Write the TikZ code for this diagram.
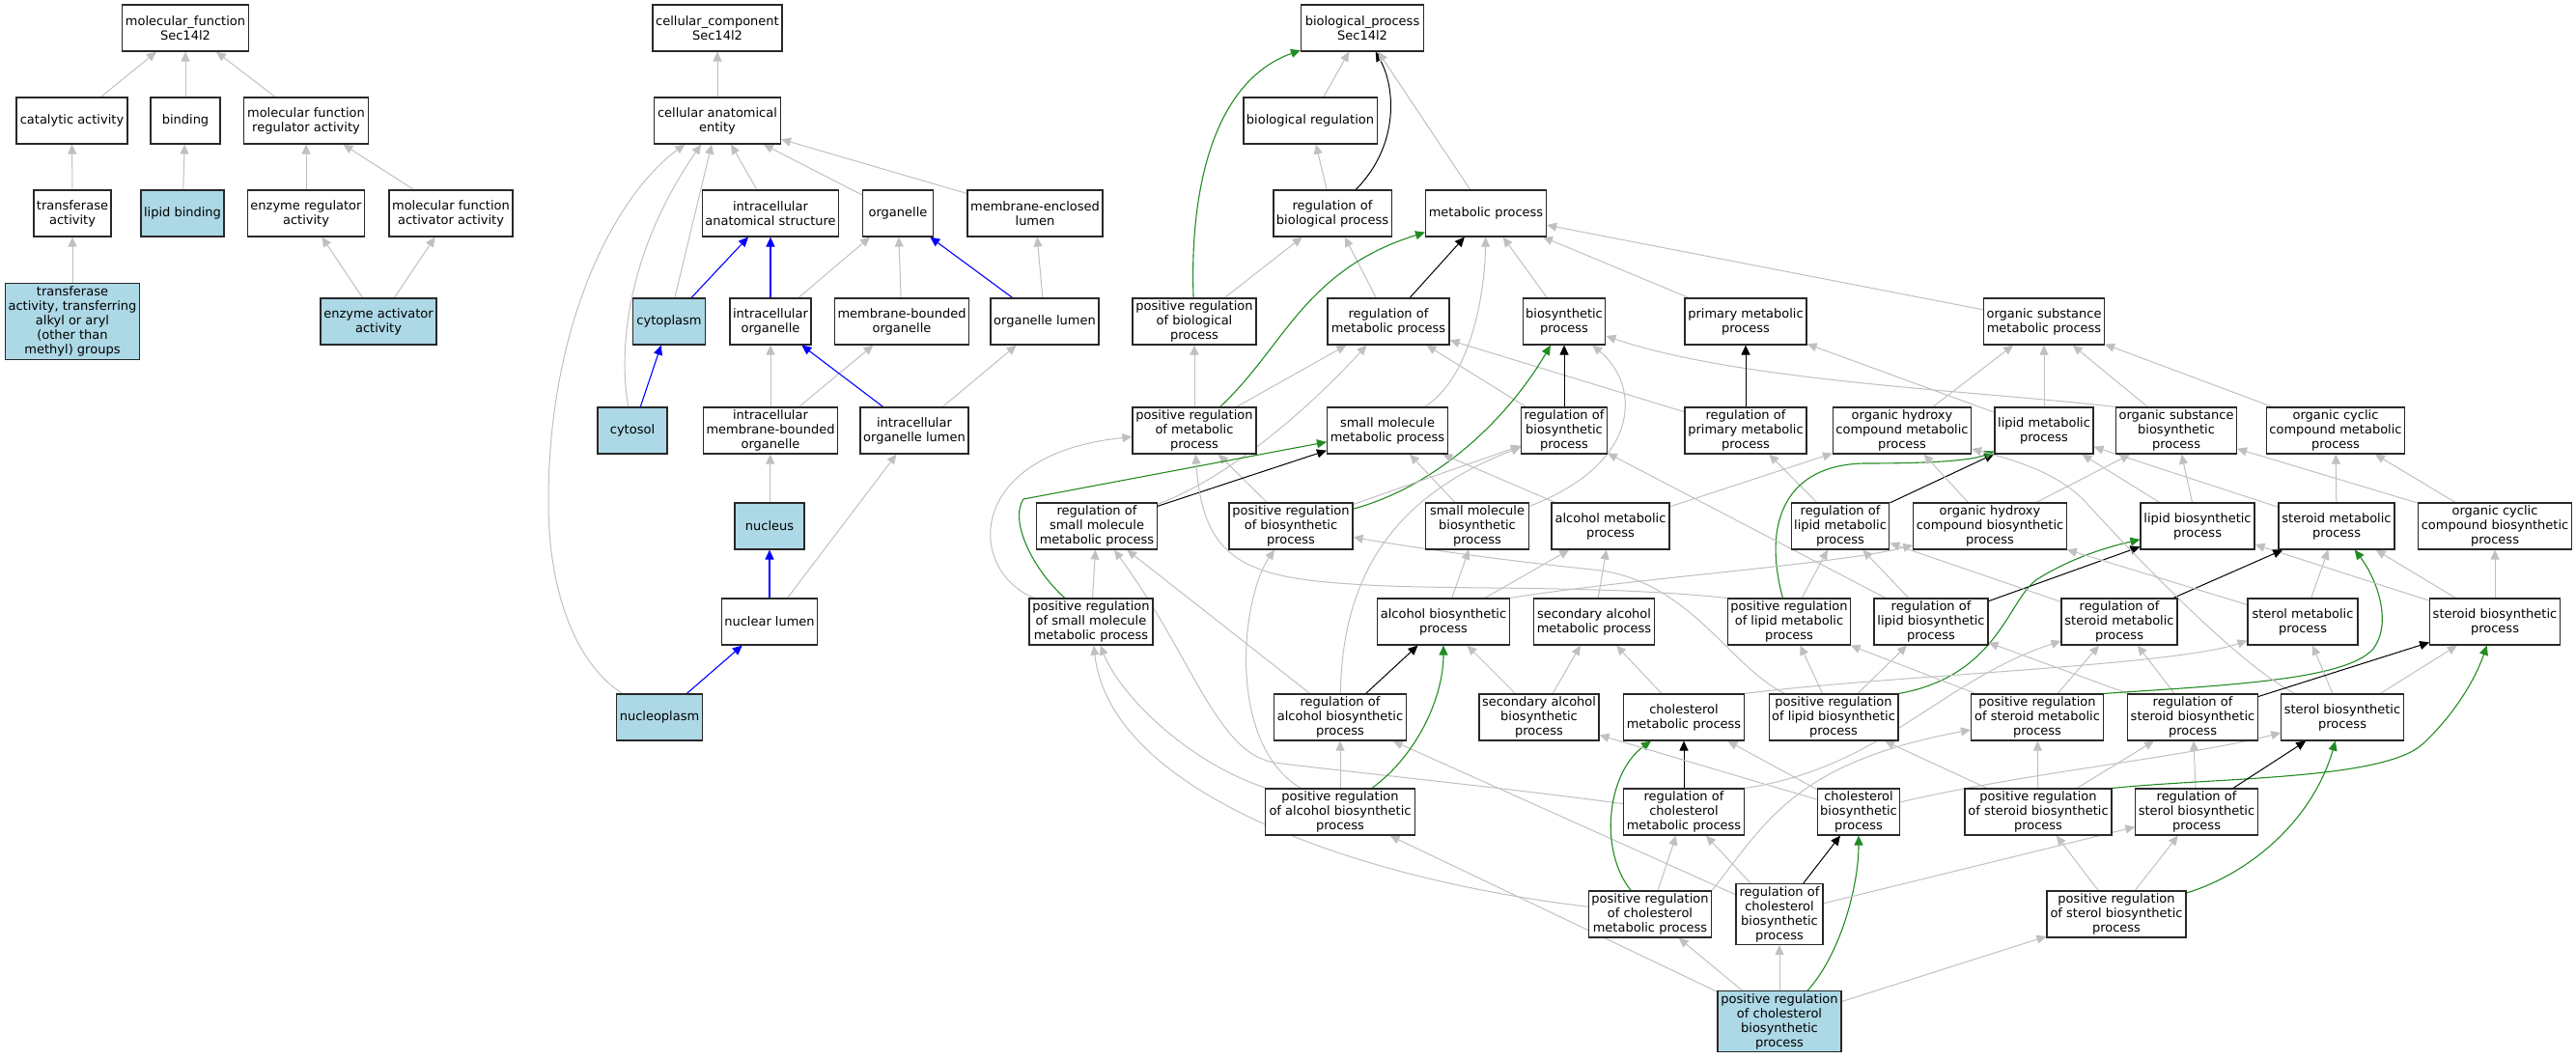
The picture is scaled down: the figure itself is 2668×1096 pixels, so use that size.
\documentclass[tikz,border=0pt]{standalone}
\usepackage{fontspec}
\setmainfont{DejaVu Sans}
\usetikzlibrary{arrows.meta,backgrounds}
\definecolor{edgegray}{RGB}{192,192,192}
\definecolor{posgreen}{RGB}{34,139,34}
\definecolor{partblue}{RGB}{0,0,255}
\definecolor{hitblue}{RGB}{173,216,230}
\definecolor{boxline}{RGB}{40,40,40}
\tikzset{
  box/.style={draw=boxline, line width=1.1pt, fill=white, align=center, inner xsep=3pt, inner ysep=1.5pt, minimum height=48pt, font=\fontsize{13}{15}\selectfont},
  hit/.style={box, fill=hitblue},
  tip/.style={-{Triangle[length=10pt,width=9pt]}},
  ga/.style={tip, draw=edgegray, line width=1pt},
  ka/.style={tip, draw=black, line width=1pt},
  gr/.style={tip, draw=posgreen, line width=1.1pt},
  bl/.style={tip, draw=partblue, line width=1.1pt}
}
\begin{document}
\begin{tikzpicture}[x=1pt,y=-1pt]
\useasboundingbox (0,0) rectangle (2668,1096);
% ---------- molecular function ----------
\node[box, minimum width=131pt] (mf) at (192,29) {molecular\_function\\Sec14l2};
\node[box, minimum width=115pt] (cat) at (74.5,125) {catalytic activity};
\node[box, minimum width=72pt] (bind) at (192,125) {binding};
\node[box, minimum width=129pt] (mfr) at (317,125) {molecular function\\regulator activity};
\node[box, minimum width=80pt] (trans) at (75,221) {transferase\\activity};
\node[hit, minimum width=86pt] (lipb) at (189,221) {lipid binding};
\node[box, minimum width=121pt] (enzr) at (317,221) {enzyme regulator\\activity};
\node[box, minimum width=128pt] (mfa) at (467,221) {molecular function\\activator activity};
\node[hit, minimum width=138pt, minimum height=79pt] (trx) at (75,333) {transferase\\activity, transferring\\alkyl or aryl\\(other than\\methyl) groups};
\node[hit, minimum width=120pt] (enza) at (392,333) {enzyme activator\\activity};
% ---------- cellular component ----------
\node[box, minimum width=134pt] (cc) at (743,29) {cellular\_component\\Sec14l2};
\node[box, minimum width=131pt] (cae) at (743,125) {cellular anatomical\\entity};
\node[box, minimum width=141pt] (ias) at (798,221) {intracellular\\anatomical structure};
\node[box, minimum width=73pt] (org) at (930,221) {organelle};
\node[box, minimum width=140pt] (mel) at (1072,221) {membrane-enclosed\\lumen};
\node[hit, minimum width=75pt] (cyto) at (693,333) {cytoplasm};
\node[box, minimum width=84pt] (io) at (798,333) {intracellular\\organelle};
\node[box, minimum width=138pt] (mbo) at (934,333) {membrane-bounded\\organelle};
\node[box, minimum width=112pt] (orgl) at (1082,333) {organelle lumen};
\node[hit, minimum width=72pt] (cytosol) at (655,446) {cytosol};
\node[box, minimum width=139pt] (imbo) at (798,446) {intracellular\\membrane-bounded\\organelle};
\node[box, minimum width=112pt] (iol) at (947,446) {intracellular\\organelle lumen};
\node[hit, minimum width=72pt] (nuc) at (797,545) {nucleus};
\node[box, minimum width=99pt] (nl) at (797,644) {nuclear lumen};
\node[hit, minimum width=89pt] (np) at (683,743) {nucleoplasm};
% ---------- biological process ----------
\node[box, minimum width=127pt] (bp) at (1411,29) {biological\_process\\Sec14l2};
\node[box, minimum width=138pt] (br) at (1357,125) {biological regulation};
\node[box, minimum width=122pt] (robp) at (1380,221) {regulation of\\biological process};
\node[box, minimum width=125pt] (mp) at (1539,221) {metabolic process};
\node[box, minimum width=128pt] (probp) at (1237,333) {positive regulation\\of biological\\process};
\node[box, minimum width=126pt] (romp) at (1438,333) {regulation of\\metabolic process};
\node[box, minimum width=85pt] (bsp) at (1620,333) {biosynthetic\\process};
\node[box, minimum width=126pt] (pmp) at (1808,333) {primary metabolic\\process};
\node[box, minimum width=124pt] (osmp) at (2117,333) {organic substance\\metabolic process};
\node[box, minimum width=128pt] (promp) at (1237,446) {positive regulation\\of metabolic\\process};
\node[box, minimum width=125pt] (smmp) at (1437,446) {small molecule\\metabolic process};
\node[box, minimum width=87pt] (rbp) at (1620,446) {regulation of\\biosynthetic\\process};
\node[box, minimum width=126pt] (rpmp) at (1808,446) {regulation of\\primary metabolic\\process};
\node[box, minimum width=141pt] (ohcmp) at (1970,446) {organic hydroxy\\compound metabolic\\process};
\node[box, minimum width=102pt] (lmp) at (2117,446) {lipid metabolic\\process};
\node[box, minimum width=122pt] (osbp) at (2254,446) {organic substance\\biosynthetic\\process};
\node[box, minimum width=142pt] (occmp) at (2419,446) {organic cyclic\\compound metabolic\\process};
\node[box, minimum width=125pt] (rsmmp) at (1136,545) {regulation of\\small molecule\\metabolic process};
\node[box, minimum width=128pt] (prbp) at (1337,545) {positive regulation\\of biosynthetic\\process};
\node[box, minimum width=107pt] (smbp) at (1530,545) {small molecule\\biosynthetic\\process};
\node[box, minimum width=122pt] (amp) at (1668,545) {alcohol metabolic\\process};
\node[box, minimum width=101pt] (rlmp) at (1906,545) {regulation of\\lipid metabolic\\process};
\node[box, minimum width=158pt] (ohcbp) at (2061,545) {organic hydroxy\\compound biosynthetic\\process};
\node[box, minimum width=118pt] (lbp) at (2276,545) {lipid biosynthetic\\process};
\node[box, minimum width=120pt] (stmp) at (2420,545) {steroid metabolic\\process};
\node[box, minimum width=158pt] (occbp) at (2584,545) {organic cyclic\\compound biosynthetic\\process};
\node[box, minimum width=128pt] (prsmmp) at (1130,644) {positive regulation\\of small molecule\\metabolic process};
\node[box, minimum width=136pt] (abp) at (1495,644) {alcohol biosynthetic\\process};
\node[box, minimum width=124pt] (samp) at (1651,644) {secondary alcohol\\metabolic process};
\node[box, minimum width=127pt] (prlmp) at (1853,644) {positive regulation\\of lipid metabolic\\process};
\node[box, minimum width=118pt] (rlbp) at (2000,644) {regulation of\\lipid biosynthetic\\process};
\node[box, minimum width=120pt] (rstmp) at (2195,644) {regulation of\\steroid metabolic\\process};
\node[box, minimum width=114pt] (sterolmp) at (2385,644) {sterol metabolic\\process};
\node[box, minimum width=134pt] (stbp) at (2584,644) {steroid biosynthetic\\process};
\node[box, minimum width=137pt] (rabp) at (1388,743) {regulation of\\alcohol biosynthetic\\process};
\node[box, minimum width=123pt] (sabp) at (1594,743) {secondary alcohol\\biosynthetic\\process};
\node[box, minimum width=125pt] (cmp) at (1744,743) {cholesterol\\metabolic process};
\node[box, minimum width=133pt] (prlbp) at (1899,743) {positive regulation\\of lipid biosynthetic\\process};
\node[box, minimum width=137pt] (prstmp) at (2110,743) {positive regulation\\of steroid metabolic\\process};
\node[box, minimum width=133pt] (rstbp) at (2271,743) {regulation of\\steroid biosynthetic\\process};
\node[box, minimum width=126pt] (sterolbp) at (2426,743) {sterol biosynthetic\\process};
\node[box, minimum width=155pt] (prabp) at (1388,841) {positive regulation\\of alcohol biosynthetic\\process};
\node[box, minimum width=125pt] (rcmp) at (1744,841) {regulation of\\cholesterol\\metabolic process};
\node[box, minimum width=85pt] (cbp) at (1925,841) {cholesterol\\biosynthetic\\process};
\node[box, minimum width=152pt] (prstbp) at (2111,841) {positive regulation\\of steroid biosynthetic\\process};
\node[box, minimum width=126pt] (rsterolbp) at (2275,841) {regulation of\\sterol biosynthetic\\process};
\node[box, minimum width=127pt] (prcmp) at (1709,947) {positive regulation\\of cholesterol\\metabolic process};
\node[box, minimum width=90pt, minimum height=63pt] (rcbp) at (1843,947) {regulation of\\cholesterol\\biosynthetic\\process};
\node[box, minimum width=144pt] (prsterolbp) at (2192,947) {positive regulation\\of sterol biosynthetic\\process};
\node[hit, minimum width=128pt, minimum height=63pt] (prcbp) at (1843,1058) {positive regulation\\of cholesterol\\biosynthetic\\process};

\begin{pgfonlayer}{background}
% MF
\draw[ga] (cat) -- (mf);
\draw[ga] (bind) -- (mf);
\draw[ga] (mfr) -- (mf);
\draw[ga] (trans) -- (cat);
\draw[ga] (lipb) -- (bind);
\draw[ga] (enzr) -- (mfr);
\draw[ga] (mfa) -- (mfr);
\draw[ga] (trx) -- (trans);
\draw[ga] (enza) -- (enzr);
\draw[ga] (enza) -- (mfa);
% CC
\draw[ga] (cae) -- (cc);
\draw[ga] (ias) -- (cae);
\draw[ga] (org) -- (cae);
\draw[ga] (mel) -- (cae);
\draw[ga] (cyto) -- (cae);
\draw[ga] (cytosol) .. controls (640,360) and (650,260) .. (cae);
\draw[ga] (np) .. controls (600,690) and (568,620) .. (568,520) .. controls (568,330) and (640,200) .. (cae);
\draw[bl] (cyto) -- (ias);
\draw[bl] (io) -- (ias);
\draw[ga] (io) -- (org);
\draw[ga] (mbo) -- (org);
\draw[bl] (orgl) -- (org);
\draw[ga] (orgl) -- (mel);
\draw[bl] (cytosol) -- (cyto);
\draw[ga] (imbo) -- (io);
\draw[ga] (imbo) -- (mbo);
\draw[bl] (iol) -- (io);
\draw[ga] (iol) -- (orgl);
\draw[ga] (nuc) -- (imbo);
\draw[bl] (nl) -- (nuc);
\draw[ga] (nl) -- (iol);
\draw[bl] (np) -- (nl);
% BP upper
\draw[ga] (br) -- (bp);
\draw[ka] (robp) .. controls (1450,150) and (1445,90) .. (bp);
\draw[ga] (mp) -- (bp);
\draw[gr] (probp) .. controls (1232,200) and (1255,85) .. (bp);
\draw[ga] (robp) -- (br);
\draw[ga] (probp) -- (robp);
\draw[ga] (romp) -- (robp);
\draw[ka] (romp) -- (mp);
\draw[gr] (promp) .. controls (1330,360) and (1350,280) .. (mp);
\draw[ga] (smmp) .. controls (1525,390) and (1538,300) .. (mp);
\draw[ga] (bsp) -- (mp);
\draw[ga] (pmp) -- (mp);
\draw[ga] (osmp) -- (mp);
\draw[ga] (promp) -- (probp);
\draw[ga] (promp) -- (romp);
\draw[ga] (rsmmp) .. controls (1260,500) and (1340,440) .. (romp);
\draw[ga] (rbp) -- (romp);
\draw[ga] (rpmp) -- (romp);
\draw[ka] (rbp) -- (bsp);
\draw[gr] (prbp) .. controls (1500,500) and (1570,420) .. (bsp);
\draw[ga] (smbp) .. controls (1700,480) and (1700,400) .. (bsp);
\draw[ga] (osbp.north west) .. controls (2050,405) and (1800,395) .. (bsp);
\draw[ka] (rpmp) -- (pmp);
\draw[ga] (lmp) -- (pmp);
\draw[ga] (ohcmp) -- (osmp);
\draw[ga] (lmp) -- (osmp);
\draw[ga] (osbp) -- (osmp);
\draw[ga] (occmp) -- (osmp);
% row 5-6
\draw[ga] (prbp) -- (promp);
\draw[ga] (prsmmp) .. controls (1000,590) and (1000,470) .. (promp);
\draw[ka] (rsmmp) -- (smmp);
\draw[gr] (prsmmp) .. controls (1070,590) and (1045,540) .. (1060,517) -- (smmp);
\draw[ga] (prbp) -- (rbp);
\draw[ga] (smbp) -- (smmp);
\draw[ga] (amp) -- (smmp);
\draw[ga] (prsmmp) -- (rsmmp);
\draw[ga] (rlmp) -- (rpmp);
\draw[ga] (amp) -- (ohcmp);
\draw[ka] (rlmp) -- (lmp);
\draw[gr] (prlmp) .. controls (1825,540) and (1850,482) .. (1930,480) .. controls (1990,480) and (2040,478) .. (lmp);
\draw[ga] (ohcbp) -- (ohcmp);
\draw[ga] (ohcbp) -- (osbp);
\draw[ga] (lbp) -- (lmp);
\draw[ga] (lbp) -- (osbp);
\draw[ga] (stmp) -- (lmp);
\draw[ga] (stmp) -- (occmp);
\draw[ga] (occbp) -- (occmp);
\draw[ga] (occbp) -- (osbp);
% long curves
\draw[ga] (prlmp.north west) .. controls (1650,605) and (1500,612) .. (1400,605) .. controls (1290,598) and (1245,580) .. (promp);
\draw[ga] (rabp) .. controls (1390,600) and (1440,515) .. (rbp);
\draw[ga] (prabp) .. controls (1270,770) and (1285,620) .. (prbp);
\draw[ga] (rabp) -- (rsmmp);
\draw[ga] (rcmp) .. controls (1550,815) and (1400,800) .. (1320,790) .. controls (1260,780) and (1235,680) .. (rsmmp);
\draw[ga] (prabp) .. controls (1230,790) and (1160,720) .. (prsmmp);
\draw[ga] (prcmp) .. controls (1400,910) and (1150,820) .. (prsmmp);
\draw[ga] (rcbp) -- (rabp);
\draw[ga] (prabp) -- (rabp);
\draw[gr] (prabp) .. controls (1470,780) and (1495,720) .. (abp);
\draw[ka] (rabp) -- (abp);
\draw[ga] (sabp) -- (abp);
\draw[ga] (sabp) -- (samp);
\draw[ga] (prcbp) -- (prabp);
\draw[ga] (abp) -- (smbp);
\draw[ga] (abp) -- (amp);
\draw[ga] (abp.north east) .. controls (1700,598) and (1900,585) .. (ohcbp);
\draw[ga] (samp) -- (amp);
\draw[ga] (prlbp) .. controls (1790,690) and (1750,600) .. (1650,590) .. controls (1550,580) and (1450,565) .. (prbp);
\draw[ga] (rlbp) -- (rbp);
\draw[ga] (rlbp) -- (rlmp);
\draw[ga] (prlmp) -- (rlmp);
\draw[ka] (rlbp) -- (lbp);
\draw[gr] (prlbp.north east) .. controls (2070,700) and (2080,620) .. (2110,600) .. controls (2150,575) and (2190,565) .. (lbp);
\draw[ga] (rstmp) -- (rlmp);
\draw[ga] (prlbp) -- (prlmp);
\draw[ga] (prlbp) -- (rlbp);
\draw[ga] (prstmp) -- (prlmp);
\draw[ga] (prstmp) -- (rstmp);
\draw[ga] (rstbp) -- (rstmp);
\draw[ga] (rstbp) -- (rlbp);
\draw[gr] (prstmp.north east) .. controls (2300,710) and (2430,705) .. (2458,672) .. controls (2478,645) and (2462,600) .. (stmp);
\draw[ga] (stbp) -- (lbp);
\draw[ga] (stbp) -- (stmp);
\draw[ga] (stbp) -- (occbp);
\draw[ga] (sterolmp) -- (stmp);
\draw[ka] (rstmp) -- (stmp);
\draw[ga] (sterolbp) -- (sterolmp);
\draw[ga] (sterolbp) -- (stbp);
\draw[ga] (sterolmp) -- (ohcbp);
\draw[ga] (sterolbp) .. controls (2320,690) and (2210,575) .. (2160,520) .. controls (2130,488) and (2080,475) .. (ohcmp);
% cholesterol area
\draw[ga] (cmp.north east) .. controls (1950,700) and (2250,690) .. (sterolmp);
\draw[ga] (cmp) -- (samp);
\draw[ka] (rcmp) -- (cmp);
\draw[gr] (prcmp) .. controls (1655,880) and (1665,800) .. (cmp);
\draw[ga] (cbp) -- (cmp);
\draw[ga] (cbp) -- (sabp);
\draw[ga] (rcmp.north east) .. controls (1950,795) and (2010,705) .. (rstmp);
\draw[ga] (prcmp.north east) .. controls (1830,850) and (1860,790) .. (prstmp);
\draw[ga] (cbp) .. controls (2100,800) and (2260,785) .. (sterolbp);
\draw[ga] (prstbp) -- (prlbp);
\draw[ga] (prstbp) -- (prstmp);
\draw[ga] (prstbp) -- (rstbp);
\draw[ga] (rsterolbp) -- (rstbp);
\draw[gr] (prstbp.north east) .. controls (2300,805) and (2470,808) .. (2510,770) .. controls (2545,737) and (2565,700) .. (stbp);
\draw[ka] (rstbp) -- (stbp);
\draw[ka] (rsterolbp) -- (sterolbp);
\draw[gr] (prsterolbp) .. controls (2330,905) and (2395,850) .. (sterolbp);
\draw[ga] (prsterolbp) -- (prstbp);
\draw[ga] (prsterolbp) -- (rsterolbp);
\draw[ga] (prcbp) -- (prsterolbp);
\draw[ga] (prcbp) -- (rcbp);
\draw[gr] (prcbp) .. controls (1905,990) and (1925,920) .. (cbp);
\draw[ka] (rcbp) -- (cbp);
\draw[ga] (prcbp) -- (prcmp);
\draw[ga] (rcbp) -- (rsterolbp);
\draw[ga] (rcbp) -- (rcmp);
\draw[ga] (prcmp) -- (rcmp);
\end{pgfonlayer}
\end{tikzpicture}
\end{document}
